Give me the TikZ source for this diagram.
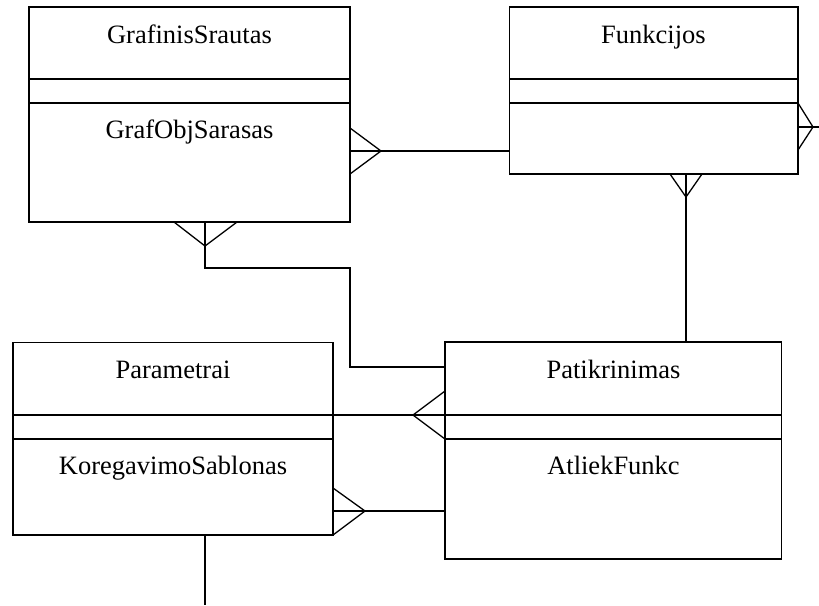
\documentclass[tikz,border=0pt]{standalone}
\usepackage{fontspec}
\setmainfont{Liberation Serif}
\begin{document}
\begin{tikzpicture}[x=1pt,y=-1pt,
  cls/.style={draw,line width=1.4pt,inner sep=0pt,outer sep=0pt,anchor=north west},
  lbl/.style={anchor=base,inner sep=0pt,font=\fontsize{26.5}{30}\selectfont},
  link/.style={line width=1.3pt},
  divider/.style={line width=1.4pt}]
\useasboundingbox (0,0) rectangle (819,605);

% class boxes
\node[cls,minimum width=321pt,minimum height=215pt] (gs) at (29,7) {};
\node[cls,minimum width=288.5pt,minimum height=167pt] (fn) at (509.5,7) {};
\node[cls,minimum width=320pt,minimum height=192.5pt] (pa) at (13,342.5) {};
\node[cls,minimum width=336.5pt,minimum height=217pt] (pt) at (445,342) {};

% compartment dividers
\foreach \b/\ya/\yb in {gs/79/103, fn/79/103, pa/415/439, pt/415/439} {
  \draw[divider] (\b.west |- 0,\ya) -- (\b.east |- 0,\ya);
  \draw[divider] (\b.west |- 0,\yb) -- (\b.east |- 0,\yb);
}

% names and attributes
\node[lbl] (gsname) at (189.5,43) {GrafinisSrautas};
\node[lbl] (gsattr) at (189.5,138) {GrafObjSarasas};
\node[lbl] (fnname) at (653.5,43) {Funkcijos};
\node[lbl] (paname) at (173,378) {Parametrai};
\node[lbl] (paattr) at (173,474) {KoregavimoSablonas};
\node[lbl] (ptname) at (613.5,378) {Patikrinimas};
\node[lbl] (ptattr) at (613.5,474) {AtliekFunkc};

% GrafinisSrautas -- Funkcijos
\coordinate (c1) at (381,151);
\draw[link] (gs.east |- c1) -- (fn.west |- c1);
\draw[link] (gs.east |- 0,128) -- (c1) -- (gs.east |- 0,174);

% GrafinisSrautas -- Patikrinimas
\coordinate (c2) at (205,246);
\coordinate (b2) at (350,268);
\coordinate (d2) at (350,367);
\draw[link] (gs.south -| c2) -- (c2) |- (b2) -- (d2) -- (pt.west |- d2);
\draw[link] (gs.south -| 174,0) -- (c2) -- (gs.south -| 237,0);

% Funkcijos -- Patikrinimas
\coordinate (c3) at (686,197);
\draw[link] (fn.south -| c3) -- (pt.north -| c3);
\draw[link] (fn.south -| 670,0) -- (c3) -- (fn.south -| 702,0);

% Funkcijos, outgoing to the right
\coordinate (c4) at (813,127);
\coordinate (e4) at (819,127);
\draw[link] (fn.east |- c4) -- (e4);
\draw[link] (fn.east |- 0,103) -- (c4) -- (fn.east |- 0,150);

% Parametrai -- Patikrinimas (upper)
\coordinate (c5) at (413,415);
\draw[link] (pa.east |- c5) -- (pt.west |- c5);
\draw[link] (pt.west |- 0,391) -- (c5) -- (pt.west |- 0,439);

% Parametrai -- Patikrinimas (lower)
\coordinate (c6) at (365,511);
\draw[link] (pa.east |- c6) -- (pt.west |- c6);
\draw[link] (pa.east |- 0,488) -- (c6) -- (pa.east |- 0,535);

% Parametrai, outgoing downwards
\coordinate (e7) at (205,605);
\draw[link] (pa.south -| e7) -- (e7);
\end{tikzpicture}
\end{document}
